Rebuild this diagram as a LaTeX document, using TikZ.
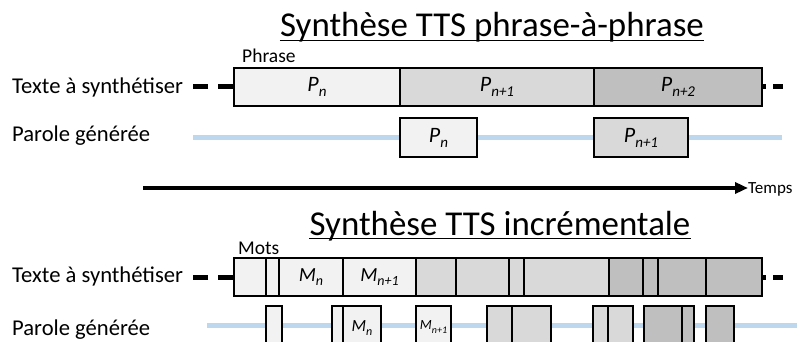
\documentclass[tikz,border=0pt]{standalone}
\usepackage{fontspec}
\setmainfont{Carlito}
\usetikzlibrary{arrows.meta}

\definecolor{segA}{HTML}{F2F2F2}
\definecolor{segB}{HTML}{D9D9D9}
\definecolor{segC}{HTML}{BFBFBF}
\definecolor{speechline}{HTML}{BDD7EE}

% italic symbol with italic index: \sub{size}{index size}{symbol}{index}
\newcommand{\sub}[4]{{\fontsize{#1}{#1}\selectfont\itshape #3\/\raisebox{-0.23em}{\fontsize{#2}{#2}\selectfont #4}}}

% box from (x0,y0) to (x1,y1): name, x0, x1, y0, y1, fill, text
\newcommand{\segbox}[7]{%
  \node[seg, fill=#6, minimum width={(#3-#2)*1pt}, minimum height={(#5-#4)*1pt}] (#1) at (#2,#4) {#7};}

\begin{document}
\begin{tikzpicture}[x=1pt, y=-1pt,
  seg/.style={draw=black, line width=1.5pt, anchor=north west, inner sep=0pt, outer sep=0pt},
  lbl/.style={inner sep=0pt, anchor=base west, font=\fontsize{22.6}{26}\selectfont},
  small/.style={inner sep=0pt, anchor=base west, font=\fontsize{19.5}{22}\selectfont},
  heading/.style={inner sep=0pt, anchor=base, font=\fontsize{34.9}{40}\selectfont},
  lead/.style={line width=5pt, dash pattern=on 16pt off 10pt},
  trail/.style={line width=5pt, dash pattern=on 4pt off 7pt on 10pt off 20pt},
  speech/.style={draw=speechline, line width=5pt}]
\useasboundingbox (0,0) rectangle (803,342);
\clip (0,0) rectangle (803,342);

% ---------- sentence by sentence ----------
\node[heading] (title1) at (492,37) {Synthèse TTS phrase-à-phrase};
\draw[line width=1.6pt] ([yshift=-3.5pt]title1.base west) -- ([yshift=-3.5pt]title1.base east);

\node[lbl] (txt1) at (12,94) {Texte à synthétiser};
\node[lbl] (par1) at (12,142) {Parole générée};
\node[small] (phrase) at (242,63) {Phrase};

\coordinate (sp1a) at (193,138);
\coordinate (sp1b) at (782,138);
\draw[speech] (sp1a) -- (sp1b);

\segbox{Pn}{234}{400}{68}{106}{segA}{\sub{22}{15}{P}{n}}
\segbox{Pn1}{400}{594}{68}{106}{segB}{\sub{22}{15}{P}{n+1}}
\segbox{Pn2}{594}{762}{68}{106}{segC}{\sub{22}{15}{P}{n+2}}

\coordinate (d1a) at (193,87);
\coordinate (d1b) at (784,87);
\draw[lead] (Pn.west) -- (d1a);
\draw[trail] (Pn2.east) -- (d1b);

\segbox{SPn}{400}{477}{118}{157}{segA}{\sub{22}{15}{P}{n}}
\segbox{SPn1}{594}{688}{118}{157}{segB}{\sub{22}{15}{P}{n+1}}

% ---------- time axis ----------
\node[small, font=\fontsize{17}{20}\selectfont] (temps) at (748,193) {Temps};
\coordinate (t0) at (143,188);
\draw[line width=4.5pt, -{Triangle[length=13pt, width=11pt]}] (t0) -- (t0 -| temps.west);

% ---------- incremental ----------
\node[heading] (title2) at (500,235) {Synthèse TTS incrémentale};
\draw[line width=1.6pt] ([yshift=-3.5pt]title2.base west) -- ([yshift=-3.5pt]title2.base east);

\node[lbl] (txt2) at (12,282) {Texte à synthétiser};
\node[lbl] (par2) at (12,335) {Parole générée};
\node[small] (mots) at (238,254) {Mots};

\coordinate (sp2a) at (207,325);
\coordinate (sp2b) at (797,325);
\draw[speech] (sp2a) -- (sp2b);

\segbox{w1}{234}{266}{258}{296}{segA}{}
\segbox{w2}{266}{279}{258}{296}{segA}{}
\segbox{w3}{279}{343}{258}{296}{segA}{\sub{20}{14}{M}{n}}
\segbox{w4}{343}{416}{258}{296}{segA}{\sub{20}{14}{M}{n+1}}
\segbox{w5}{416}{456}{258}{296}{segB}{}
\segbox{w6}{456}{509}{258}{296}{segB}{}
\segbox{w7}{509}{524}{258}{296}{segB}{}
\segbox{w8}{524}{609}{258}{296}{segB}{}
\segbox{w9}{609}{643}{258}{296}{segC}{}
\segbox{w10}{643}{658}{258}{296}{segC}{}
\segbox{w11}{658}{706}{258}{296}{segC}{}
\segbox{w12}{706}{762}{258}{296}{segC}{}

\coordinate (d2a) at (193,277);
\coordinate (d2b) at (784,277);
\draw[lead] (w1.west) -- (d2a);
\draw[trail] (w12.east) -- (d2b);

\segbox{s1}{266}{282}{306}{352}{segA}{}
\segbox{s2}{332}{343}{306}{352}{segA}{}
\segbox{s3}{343}{381}{306}{352}{segA}{}
\segbox{s4}{416}{451}{306}{352}{segA}{}
\segbox{s5}{487}{512}{306}{352}{segB}{}
\segbox{s6}{512}{551}{306}{352}{segB}{}
\segbox{s7}{593}{608}{306}{352}{segB}{}
\segbox{s8}{608}{633}{306}{352}{segB}{}
\segbox{s9}{644}{682}{306}{352}{segC}{}
\segbox{s10}{682}{694}{306}{352}{segC}{}
\segbox{s11}{706}{734}{306}{352}{segC}{}

\node[inner sep=0pt] (mn) at (362,328) {\sub{17}{12}{M}{n}};
\node[inner sep=0pt] (mn1) at (433.5,327) {\sub{14}{10}{M}{n+1}};
\end{tikzpicture}
\end{document}
